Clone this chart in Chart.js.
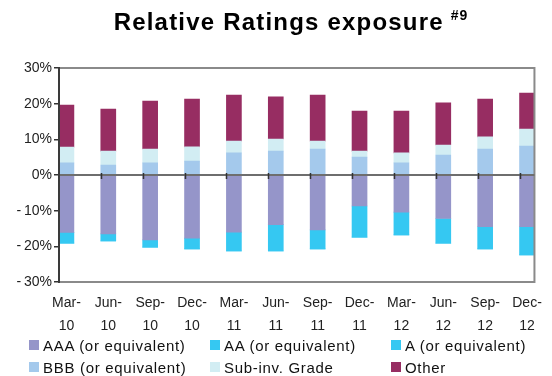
<!DOCTYPE html>
<html>
<head>
<meta charset="utf-8">
<script src="https://cdn.jsdelivr.net/npm/chart.js@4/dist/chart.umd.min.js"></script>
<style>
  html, body { margin: 0; padding: 0; background: #fff; }
  #wrap { position: relative; width: 552px; height: 376px; font-family: "Liberation Sans", Arial, sans-serif; }
  #title { position: absolute; left: 0; top: 8px; width: 522px; padding-left: 30px; text-align: center; font-weight: bold; font-size: 24px; line-height: 28px; letter-spacing: 1.2px; color: #000; z-index: 2; }
  #title sup { font-size: 14px; vertical-align: baseline; position: relative; top: -10px; margin-left: 7px; letter-spacing: 1px; }
  #legend { position: absolute; left: 29px; top: 336px; width: 520px; z-index: 2; }
  .item { position: absolute; height: 18px; display: flex; align-items: center; font-size: 15px; color: #111; white-space: nowrap; letter-spacing: 0.7px; }
  .item i { display: inline-block; width: 10px; height: 10px; margin-right: 4px; }
  canvas { position: absolute; left: 0; top: 0; }
</style>
</head>
<body>
<div id="wrap">
  <div id="title">Relative Ratings exposure<sup>#9</sup></div>
  <canvas id="chart" width="552" height="376"></canvas>
  <div id="legend"></div>
</div>
<script>
// Quarter-end dates, split into month / year lines on the axis
const quarters = ['Mar-10','Jun-10','Sep-10','Dec-10','Mar-11','Jun-11','Sep-11','Dec-11','Mar-12','Jun-12','Sep-12','Dec-12'];

// Exposure by rating bucket, % (higher grades plotted below zero)
const aaa = [-16.1,-16.5,-18.2,-17.7,-16.0,-13.9,-15.4,-8.7,-10.4,-12.2,-14.5,-14.5];
const aa  = [-3.0,-2.0,-2.0,-3.0,-5.3,-7.4,-5.3,-8.7,-6.4,-6.9,-6.2,-7.9];
const aRated = [0,0,0,0,0,0,0,0,0,0,0,0];
const bbb = [3.4,2.8,3.4,3.9,6.2,6.7,7.3,5.0,3.4,5.6,7.3,8.1];
const subInv = [4.4,3.9,3.9,4.0,3.3,3.4,2.2,1.7,2.8,2.8,3.4,4.8];
const other = [11.8,11.8,13.4,13.4,12.9,11.8,12.9,11.2,11.7,11.8,10.6,10.1];

const seriesNames = ['AAA (or equivalent)','AA (or equivalent)','A (or equivalent)','BBB (or equivalent)','Sub-inv. Grade','Other'];
const seriesColors = ['#9595c9','#35c8f2','#35c8f2','#a4c9ec','#d2edf3','#972d62'];
const seriesData = [aaa, aa, aRated, bbb, subInv, other];

const yTicks = [-30,-20,-10,0,10,20,30];

// half a bar either side of the first/last quarter
const edge = 0.177;

const datasets = seriesData.map((vals, k) => ({
  label: seriesNames[k],
  data: vals.map((v, i) => ({ x: i, y: v })),
  backgroundColor: seriesColors[k],
  borderWidth: 0,
  barThickness: 15
}));

// frame, zero line and its small tick marks
const framePlugin = {
  id: 'frame',
  afterDatasetsDraw(chart) {
    const { ctx, chartArea: a, scales } = chart;
    ctx.save();
    ctx.strokeStyle = '#8a8a8a';
    ctx.lineWidth = 2;
    ctx.beginPath();
    ctx.moveTo(a.left, a.top);
    ctx.lineTo(a.right, a.top);
    ctx.lineTo(a.right, a.bottom);
    ctx.lineTo(a.left, a.bottom);
    ctx.stroke();

    const y0 = scales.y.getPixelForValue(0);
    ctx.strokeStyle = '#6e6e6e';
    ctx.beginPath();
    ctx.moveTo(a.left, y0);
    ctx.lineTo(a.right, y0);
    ctx.stroke();

    ctx.strokeStyle = '#333';
    ctx.lineWidth = 1.5;
    ctx.beginPath();
    for (let i = 1; i < quarters.length; i++) {
      const x = Math.round(scales.x.getPixelForValue(i - edge)) + 0.5;
      ctx.moveTo(x, y0 - 2);
      ctx.lineTo(x, y0 + 4);
    }
    ctx.stroke();

    ctx.strokeStyle = '#3a3a3a';
    ctx.lineWidth = 2;
    ctx.beginPath();
    ctx.moveTo(a.left, a.top - 1);
    ctx.lineTo(a.left, a.bottom + 1);
    ctx.stroke();
    ctx.restore();
  }
};

new Chart(document.getElementById('chart'), {
  type: 'bar',
  data: { datasets },
  options: {
    responsive: false,
    animation: false,
    layout: { padding: { left: 0, right: 12, top: 68, bottom: 44 } },
    plugins: { legend: { display: false }, tooltip: { enabled: false } },
    scales: {
      x: {
        type: 'linear',
        stacked: true,
        offset: false,
        min: -edge,
        max: quarters.length - 1 + edge,
        afterBuildTicks: s => { s.ticks = quarters.map((_, i) => ({ value: i })); },
        afterFit: s => { s.height = 50; },
        grid: { display: false, drawTicks: false, offset: false },
        border: { display: false },
        ticks: {
          autoSkip: false,
          maxRotation: 0,
          padding: 10,
          color: '#222',
          font: { family: '"Liberation Sans", Arial, sans-serif', size: 14, lineHeight: 1.64 },
          callback: v => {
            const [m, y] = quarters[v].split('-');
            return [m + '-', y];
          }
        }
      },
      y: {
        stacked: true,
        min: -30,
        max: 30,
        afterBuildTicks: s => { s.ticks = yTicks.map(v => ({ value: v })); },
        afterFit: s => { s.width = 59; },
        grid: { drawOnChartArea: false, drawTicks: true, tickLength: 5, color: '#333', lineWidth: 1.5 },
        border: { display: false },
        ticks: {
          padding: 2,
          color: '#222',
          font: { family: '"Liberation Sans", Arial, sans-serif', size: 14 },
          // minus sign set a little apart from the digits
          callback: v => (v < 0 ? '-\u2009' + (-v) : v) + '%'
        }
      }
    }
  },
  plugins: [framePlugin]
});

// legend in three columns, two rows
const legend = document.getElementById('legend');
const colX = [0, 181, 362];
seriesNames.forEach((name, k) => {
  const el = document.createElement('div');
  el.className = 'item';
  el.style.left = colX[k % 3] + 'px';
  el.style.top = (Math.floor(k / 3) * 22) + 'px';
  el.innerHTML = '<i style="background:' + seriesColors[k] + '"></i>' + name;
  legend.appendChild(el);
});
</script>
</body>
</html>
